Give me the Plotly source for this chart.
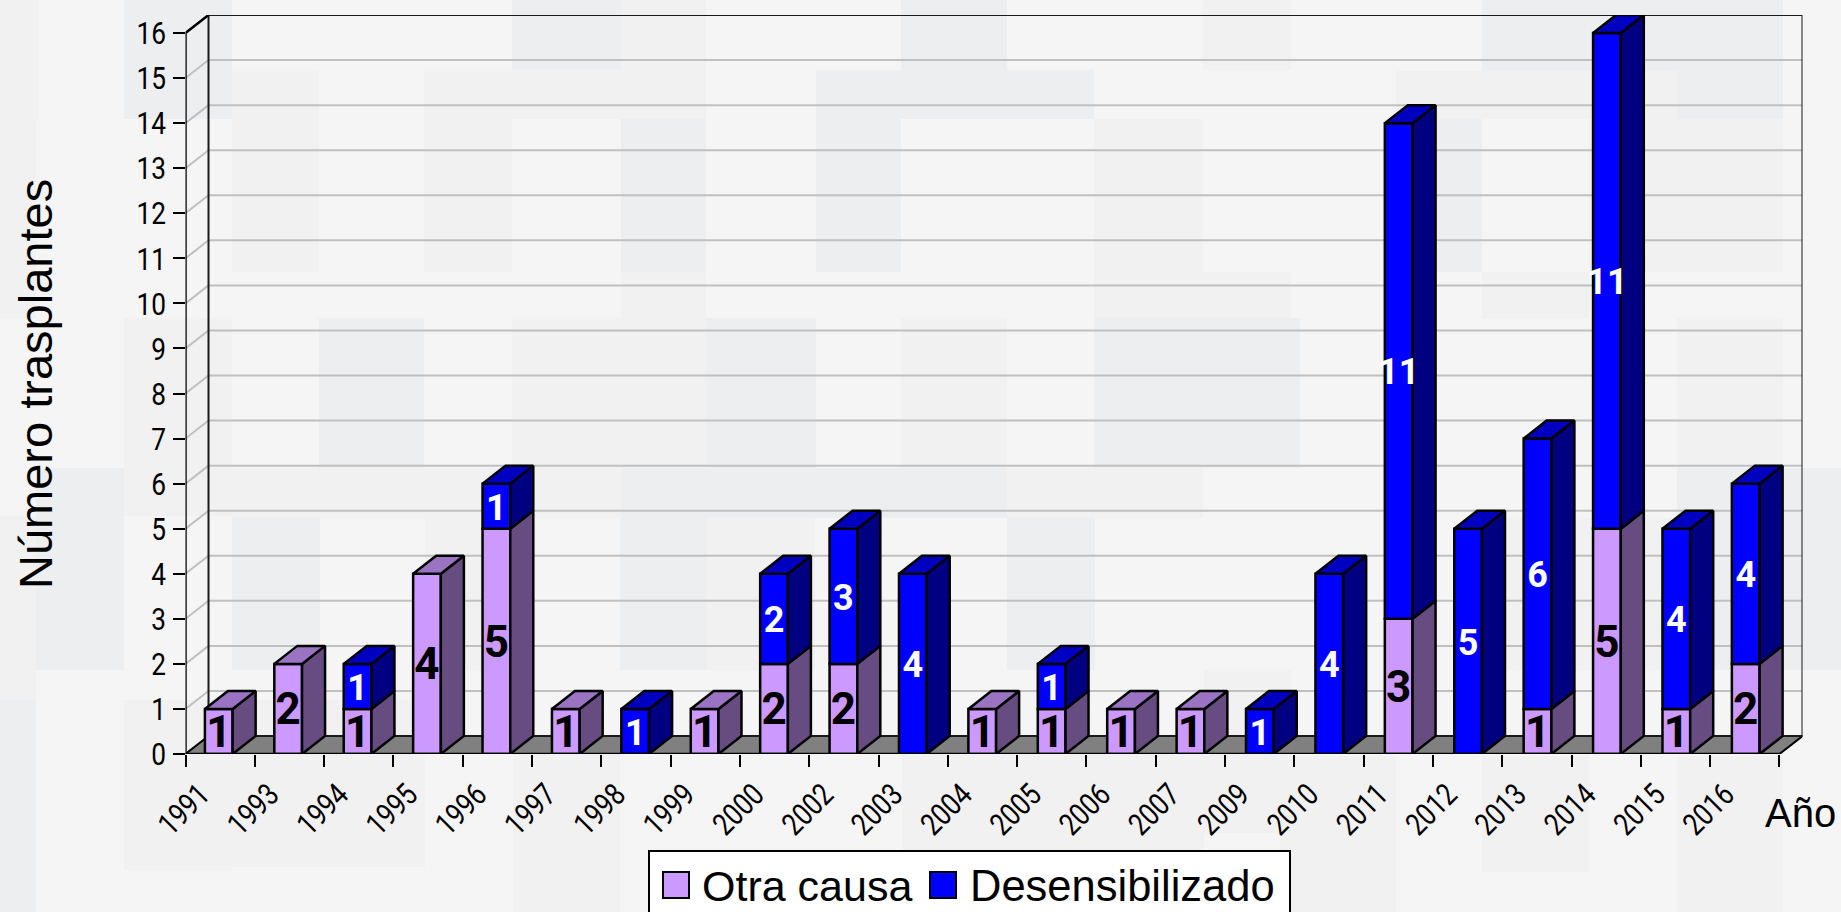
import plotly.graph_objects as go

years = ["1991","1993","1994","1995","1996","1997","1998","1999","2000","2002","2003","2004",
         "2005","2006","2007","2009","2010","2011","2012","2013","2014","2015","2016"]
otra_causa = [1,2,1,4,5,1,0,1,2,2,0,1,1,1,1,0,0,3,0,1,5,1,2]
desensibilizado = [0,0,1,0,1,0,1,0,2,3,4,0,1,0,0,1,4,11,5,6,11,4,4]
y_ticks = list(range(0, 17))

W, H = 1841, 912
LEFT, RIGHT_BACK, BOTTOM, TOP_BACK = 185.5, 1802.5, 754.0, 15.0
n = len(years)
px_x = 1593.5 / n
px_y = 721.0 / 16
DX = 23 / px_x
DY = 18 / px_y
BAR_W = 0.40
BAR_C = 0.48
BAR_PITCH = 1.0015
LABEL_DROP = 4.5 / px_y

FONT = "Liberation Sans"
DIGITS = "Roboto"

def px(x): return x / W
def py(y): return 1 - y / H

# pale backdrop tiles, page pixels (x0, y0, x1, y1)
tiles_light = [(0,0,39,119),(0,119,36,318),(0,516,36,700),(124,318,232,516),(124,700,232,870),(232,70,319,272),
               (424,70,512,272),(512,70,706,119),(621,0,706,70),(1203,0,1291,70),(1094,119,1203,272),(621,272,706,318),
               (1094,272,1291,318),(512,318,706,468),(901,318,1007,468),(232,468,1203,518),(425,517,513,670),
               (707,517,815,670),(124,700,425,867),(513,753,620,912),(902,753,1204,912),(1396,71,1677,119),
               (1589,119,1783,272),(1482,272,1589,318),(1677,318,1783,468),(1480,518,1677,670),(1280,756,1396,912),
               (1482,756,1589,872),(1677,756,1783,912),(1204,670,1291,833)]
tiles_dark = [(124,0,232,119),(512,0,621,70),(901,0,1007,70),(816,70,1094,119),(621,119,706,272),(816,119,901,272),
              (319,318,424,468),(706,318,816,468),(1094,318,1300,468),(1482,0,1783,71),(1677,71,1783,119),
              (1396,119,1482,272),(36,468,124,670),(0,700,36,912),(621,468,1007,518),(232,518,320,670),
              (620,518,707,670),(1007,518,1095,670),(1677,468,1841,670)]
shapes = []
for ts, c in ((tiles_light, "#f1f1f1"), (tiles_dark, "#edeef0")):
    for a, b, c2, d in ts:
        shapes.append(dict(type="rect", xref="paper", yref="paper", x0=px(a), x1=px(c2), y0=py(b), y1=py(d),
                           fillcolor=c, line=dict(width=0), layer="below"))

shapes.append(dict(type="path", xref="x", yref="y", layer="below", fillcolor="#808080",
                   line=dict(color="black", width=2),
                   path=f"M0,0 L{n},0 L{n+DX},{DY} L{DX},{DY} Z"))
for t in y_ticks[1:-1]:
    shapes.append(dict(type="line", xref="x", yref="y", layer="below", x0=DX, x1=n+DX, y0=t+DY, y1=t+DY,
                       line=dict(color="#c0c0c0", width=2)))
    shapes.append(dict(type="line", xref="x", yref="y", layer="below", x0=0, x1=DX, y0=t, y1=t+DY,
                       line=dict(color="#c0c0c0", width=2)))
shapes.append(dict(type="rect", xref="x", yref="y", layer="below", x0=DX, x1=n+DX, y0=DY, y1=y_ticks[-1]+DY,
                   line=dict(color="#1a1a1a", width=2)))

centers = [i * BAR_PITCH + BAR_C for i in range(n)]

def faces(vals, bases):
    sx, sy, tx, ty = [], [], [], []
    for c, v, b in zip(centers, vals, bases):
        if not v:
            continue
        x1 = c + BAR_W / 2
        x0 = x1 - BAR_W
        t = b + v
        sx += [x1, x1 + DX, x1 + DX, x1, x1, None]
        sy += [b, b + DY, t + DY, t, b, None]
        tx += [x0, x0 + DX, x1 + DX, x1, x0, None]
        ty += [t, t + DY, t + DY, t, t, None]
    return sx, sy, tx, ty

bases_o = [0] * n
bases_d = otra_causa
tops_only_o = [v if not d else 0 for v, d in zip(otra_causa, desensibilizado)]

fig = go.Figure()
fig.add_trace(go.Bar(name="Otra causa", x=centers, y=[v or None for v in otra_causa], width=BAR_W,
                     marker=dict(color="#cc99ff", line=dict(color="black", width=2.5)), showlegend=False))
fig.add_trace(go.Bar(name="Desensibilizado", x=centers, y=[v or None for v in desensibilizado], base=otra_causa,
                     width=BAR_W, marker=dict(color="#0000ff", line=dict(color="black", width=2.5)), showlegend=False))

def poly(x, y, color):
    fig.add_trace(go.Scatter(x=x, y=y, mode="lines", fill="toself", fillcolor=color, connectgaps=False,
                             line=dict(color="black", width=2.5), hoverinfo="skip", showlegend=False, cliponaxis=False))

sx, sy, _, _ = faces(otra_causa, bases_o)
poly(sx, sy, "#664c80")
sx, sy, _, _ = faces(desensibilizado, bases_d)
poly(sx, sy, "#000080")
_, _, tx, ty = faces(tops_only_o, bases_o)
poly(tx, ty, "#9b73c3")
_, _, tx, ty = faces(desensibilizado, bases_d)
poly(tx, ty, "#0000c0")

fig.add_trace(go.Scatter(x=[DX, 0, 0, n], y=[y_ticks[-1]+DY, y_ticks[-1], 0, 0], mode="lines",
                         line=dict(color="black", width=2.5), hoverinfo="skip", showlegend=False, cliponaxis=False))

lab_ox, lab_oy, lab_ot = [], [], []
lab_dx, lab_dy, lab_dt = [], [], []
for c, o, d in zip(centers, otra_causa, desensibilizado):
    if o:
        lab_ox.append(c); lab_oy.append(o / 2 - LABEL_DROP); lab_ot.append(str(o))
    if d:
        lab_dx.append(c); lab_dy.append(o + d / 2 - LABEL_DROP); lab_dt.append(str(d))
fig.add_trace(go.Scatter(x=lab_ox, y=lab_oy, text=lab_ot, mode="text", textposition="middle center",
                         textfont=dict(family=DIGITS, size=44, color="black", weight="bold"),
                         hoverinfo="skip", showlegend=False, cliponaxis=False))
fig.add_trace(go.Scatter(x=lab_dx, y=lab_dy, text=lab_dt, mode="text", textposition="middle center",
                         textfont=dict(family=DIGITS, size=36, color="white", weight="bold"),
                         hoverinfo="skip", showlegend=False, cliponaxis=False))

LX0, LX1, LY0, LY1 = 649, 1290, 851, 914
shapes.append(dict(type="rect", xref="paper", yref="paper", x0=px(LX0), x1=px(LX1), y0=py(LY0), y1=py(LY1),
                   fillcolor="white", line=dict(color="black", width=2), layer="above"))
for xa, col in ((663, "#cc99ff"), (930, "#0000ff")):
    shapes.append(dict(type="rect", xref="paper", yref="paper", x0=px(xa), x1=px(xa+26), y0=py(872), y1=py(898),
                       fillcolor=col, line=dict(color="black", width=2), layer="above"))

ann = [
    dict(text="Otra causa", x=px(700), y=py(886), xanchor="left", yanchor="middle", size=43),
    dict(text="Desensibilizado", x=px(968), y=py(886), xanchor="left", yanchor="middle", size=43.5),
    dict(text="Año", x=px(1763), y=py(813), xanchor="left", yanchor="middle", size=40),
    dict(text="Número trasplantes", x=px(35), y=py(384), xanchor="center", yanchor="middle", size=47, textangle=-90),
]
annotations = [dict(text=a["text"], x=a["x"], y=a["y"], xref="paper", yref="paper", xanchor=a["xanchor"],
                    yanchor=a["yanchor"], showarrow=False, textangle=a.get("textangle", 0),
                    font=dict(family=FONT, size=a["size"], color="black")) for a in ann]

fig.update_layout(
    width=W, height=H, margin=dict(l=0, r=0, t=0, b=0, pad=0), autosize=False,
    paper_bgcolor="#f5f5f5", plot_bgcolor="rgba(0,0,0,0)", barmode="overlay", showlegend=False,
    shapes=shapes, annotations=annotations,
    xaxis=dict(domain=[px(LEFT), px(RIGHT_BACK)], range=[0, n + DX], tickmode="array", automargin=False,
               tickvals=list(range(n + 1)), ticktext=years + [""], tickangle=-45, ticks="outside", ticklen=12,
               tickwidth=2, tickcolor="black", showgrid=False, zeroline=False, showline=False,
               tickfont=dict(family=DIGITS, size=31, color="black"), ticklabelshift=15, ticklabelstandoff=-3),
    yaxis=dict(domain=[py(BOTTOM), py(TOP_BACK)], range=[0, y_ticks[-1] + DY], tickmode="array", automargin=False,
               tickvals=y_ticks, ticks="outside", ticklen=12, tickwidth=2, tickcolor="black", showgrid=False,
               zeroline=False, showline=False, tickfont=dict(family=DIGITS, size=32, color="black")),
)
narrow = """
document.body.style.margin='0';document.body.style.overflow='hidden';
var gd=document.getElementById('{plot_id}');
function narrowTicks(){
  gd.querySelectorAll('.xtick text, .ytick text').forEach(function(t){
    if(t.getAttribute('textLength')) return;
    var w=t.getComputedTextLength();
    if(w>0){t.setAttribute('textLength',w*0.82);t.setAttribute('lengthAdjust','spacingAndGlyphs');}
  });
}
narrowTicks();gd.on('plotly_afterplot',narrowTicks);
"""
fig.write_html("out.html", config={"displayModeBar": False}, post_script=narrow)
